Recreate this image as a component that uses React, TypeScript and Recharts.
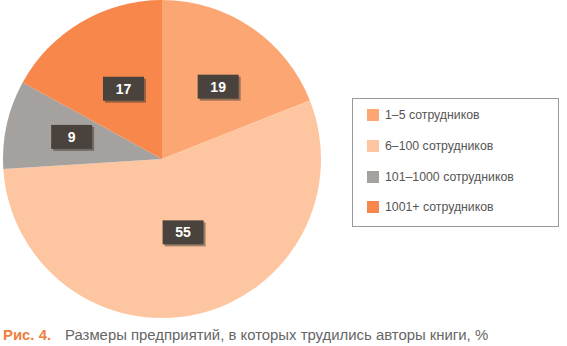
import { PieChart, Pie, Cell, Legend } from 'recharts';

// доли предприятий по числу сотрудников, %
const categories = ['1–5 сотрудников', '6–100 сотрудников', '101–1000 сотрудников', '1001+ сотрудников'];
const shares = [19, 55, 9, 17];

const COLORS = ['#fca674', '#fec6a0', '#a4a19e', '#f7874b'];
// ручная подгонка положения подписей относительно середины сектора
const LABEL_NUDGE = [
  [7, 0],
  [2, -12],
  [-5, -3],
  [6, 5]
];

const data = categories.map((name, i) => ({ name, value: shares[i] }));

const RADIAN = Math.PI / 180;
const FONT = 'Liberation Sans, Arial, Helvetica, sans-serif';

function ValueBox(props: any) {
  const { cx, cy, midAngle, outerRadius, index, value } = props;
  const r = outerRadius * 0.55;
  const [dx, dy] = LABEL_NUDGE[index];
  const x = cx + r * Math.cos(-midAngle * RADIAN) + dx;
  const y = cy + r * Math.sin(-midAngle * RADIAN) + dy;
  const w = 41;
  const h = 24;
  return (
    <g>
      <rect x={x - w / 2 + 2} y={y - h / 2 + 2} width={w} height={h} fill="#4a433d" opacity={0.55} />
      <rect x={x - w / 2} y={y - h / 2} width={w} height={h} fill="#4a433d" />
      <text
        x={x}
        y={y}
        fill="#ffffff"
        textAnchor="middle"
        dominantBaseline="central"
        fontFamily={FONT}
        fontWeight="bold"
        fontSize={14}
      >
        {value}
      </text>
    </g>
  );
}

function LegendBox() {
  return (
    <div
      style={{
        width: 207,
        height: 129,
        border: '1px solid #999',
        boxSizing: 'border-box',
        paddingTop: 1,
        fontFamily: FONT
      }}
    >
      {categories.map((c, i) => (
        <div key={c} style={{ display: 'flex', alignItems: 'center', height: 30.7, marginLeft: 14 }}>
          <span style={{ width: 12, height: 12, background: COLORS[i], marginRight: 6 }} />
          <span style={{ fontSize: 12.3, color: '#555' }}>{c}</span>
        </div>
      ))}
    </div>
  );
}

export default function App() {
  return (
    <div style={{ position: 'absolute', left: 0, top: 0, width: 567, height: 346, background: '#fff' }}>
      <PieChart width={567} height={346} margin={{ top: 0, right: 0, bottom: 0, left: 0 }}>
        <Pie
          data={data}
          dataKey="value"
          nameKey="name"
          cx={162}
          cy={159}
          outerRadius={159}
          startAngle={90}
          endAngle={-270}
          stroke="none"
          label={ValueBox}
          labelLine={false}
          isAnimationActive={false}
        >
          {data.map((_, i) => (
            <Cell key={i} fill={COLORS[i]} />
          ))}
        </Pie>
        <Legend
          content={LegendBox}
          layout="vertical"
          wrapperStyle={{ position: 'absolute', left: 352, top: 98, width: 'auto' }}
        />
      </PieChart>
      <div
        style={{
          position: 'absolute',
          left: 3,
          top: 327,
          fontFamily: FONT,
          fontSize: 14.9,
          color: '#666',
          whiteSpace: 'nowrap'
        }}
      >
        <span style={{ color: '#f07f3c', fontWeight: 'bold', display: 'inline-block', width: 62 }}>Рис. 4.</span>
        Размеры предприятий, в которых трудились авторы книги, %
      </div>
    </div>
  );
}
